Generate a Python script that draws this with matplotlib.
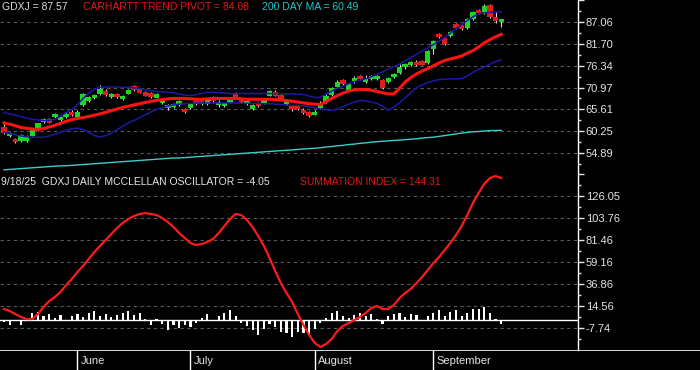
import matplotlib
matplotlib.use("Agg")
import matplotlib.pyplot as plt
import numpy as np
import pandas as pd

plt.rcParams['font.family'] = ['Liberation Sans', 'DejaVu Sans']

# ---------------- data ----------------
holidays = ['2025-05-26', '2025-06-19', '2025-07-04', '2025-09-01']
dates = pd.bdate_range('2025-05-13', '2025-09-18', freq='C', holidays=holidays)

opens = [61.4, 59.2, 58.3, 57.9, 57.8, 59.2, 60.6, 62.5, 63.0, 63.7,
         62.9, 63.7, 64.9, 63.8, 66.6, 67.7, 68.5, 69.3, 70.0, 68.6,
         69.3, 68.3, 69.5, 71.2, 70.4, 69.7, 69.5, 68.8, 67.1, 65.9,
         66.1, 66.8, 65.6, 65.9, 67.7, 67.6, 67.0, 68.6, 66.8, 66.6,
         67.5, 69.3, 68.0, 66.9, 65.8, 67.1, 67.2, 69.0, 69.7, 68.9,
         66.9, 66.5, 66.2, 65.5, 64.9, 64.5, 66.0, 67.5, 69.2, 71.2,
         72.8, 70.3, 72.5, 73.7, 72.3, 73.0, 73.2, 72.8, 72.3, 73.5,
         74.6, 75.9, 76.6, 77.1, 77.3, 77.0, 80.5, 84.0, 83.0, 83.7,
         86.5, 86.2, 85.6, 87.8, 90.0, 89.2, 91.2, 88.0, 87.2]
highs = [62.0, 60.0, 58.6, 59.6, 59.3, 60.8, 62.4, 63.5, 63.4, 64.8,
         64.1, 64.9, 65.5, 65.4, 69.7, 68.9, 69.5, 71.7, 70.5, 69.7,
         69.6, 69.2, 70.7, 71.7, 70.8, 70.0, 69.8, 69.6, 68.4, 67.0,
         67.3, 67.9, 65.9, 67.3, 68.0, 67.9, 68.0, 68.9, 67.8, 67.4,
         68.1, 69.8, 68.3, 67.9, 67.0, 67.4, 68.1, 70.3, 70.3, 69.5,
         68.0, 66.8, 66.5, 65.9, 65.2, 65.4, 67.6, 69.3, 71.2, 72.8,
         73.1, 72.0, 73.8, 74.0, 74.1, 74.0, 74.1, 73.1, 73.6, 74.6,
         76.7, 77.1, 77.5, 77.6, 77.7, 80.1, 82.6, 84.3, 83.3, 84.9,
         86.8, 86.6, 88.0, 89.8, 90.3, 91.5, 91.5, 89.5, 87.8]
lows = [59.5, 58.9, 57.3, 57.6, 57.5, 59.0, 60.3, 62.2, 62.3, 63.4,
        62.7, 63.5, 64.0, 63.6, 66.4, 67.4, 68.2, 69.1, 68.9, 68.4,
        68.5, 68.0, 69.3, 70.2, 69.6, 68.9, 68.5, 68.5, 66.9, 65.5,
        65.9, 66.5, 64.8, 65.6, 66.8, 66.8, 66.7, 67.3, 66.1, 66.3,
        67.2, 68.1, 67.1, 66.6, 65.4, 66.2, 66.9, 68.8, 68.8, 68.0,
        66.6, 65.3, 65.4, 64.5, 63.8, 64.2, 65.7, 67.2, 69.0, 71.0,
        71.5, 70.0, 72.2, 72.8, 72.0, 72.7, 72.9, 70.6, 72.0, 73.2,
        74.4, 75.6, 76.3, 76.2, 76.4, 76.8, 79.3, 83.1, 81.3, 83.4,
        85.3, 85.0, 85.4, 87.6, 89.0, 89.0, 88.0, 86.8, 85.8]
closes = [59.8, 59.6, 57.6, 59.3, 59.0, 60.5, 62.2, 63.2, 62.6, 64.5,
          63.8, 64.6, 64.3, 65.0, 69.4, 68.6, 69.0, 70.5, 69.2, 69.4,
          68.7, 68.9, 70.4, 70.5, 69.8, 69.1, 68.8, 69.0, 68.1, 66.7,
          67.0, 67.6, 65.0, 67.0, 67.0, 67.1, 67.8, 67.6, 67.4, 67.1,
          67.8, 68.3, 67.5, 67.6, 66.7, 66.5, 67.8, 70.0, 69.1, 68.4,
          67.7, 65.6, 65.8, 64.8, 64.0, 64.8, 67.3, 69.0, 70.9, 72.4,
          71.8, 71.8, 73.3, 73.0, 73.0, 73.7, 73.6, 70.9, 73.3, 74.3,
          76.0, 76.8, 77.1, 76.5, 76.7, 79.8, 82.3, 83.4, 81.6, 84.6,
          85.6, 85.4, 87.7, 89.5, 89.3, 91.0, 88.3, 87.5, 87.57]

trend_pivot = [62.3, 62.0, 61.6, 61.2, 61.0, 60.8, 60.7, 60.9, 61.3, 61.7,
               62.2, 62.7, 63.1, 63.4, 63.6, 63.9, 64.2, 64.5, 64.9, 65.3,
               65.7, 66.1, 66.4, 66.7, 67.0, 67.3, 67.6, 67.8, 68.0, 68.2,
               68.3, 68.3, 68.3, 68.2, 68.1, 68.1, 68.2, 68.3, 68.3, 68.3,
               68.3, 68.3, 68.2, 68.1, 68.1, 68.1, 68.1, 68.1, 68.0, 67.9,
               67.8, 67.6, 67.4, 67.2, 67.0, 66.9, 66.8, 67.5, 68.3, 69.0,
               69.6, 70.1, 70.4, 70.5, 70.5, 70.3, 70.0, 69.7, 69.4, 69.4,
               70.8, 72.3, 73.4, 74.3, 75.0, 75.6, 76.3, 77.0, 77.6, 78.0,
               78.3, 78.7, 79.4, 80.0, 80.9, 81.9, 82.7, 83.4, 84.0]
upper_band = [64.8, 64.5, 64.2, 63.8, 63.5, 63.2, 63.0, 62.9, 62.9, 63.2,
              64.0, 64.8, 65.6, 66.8, 68.3, 69.6, 70.6, 71.0, 71.1, 71.1,
              71.1, 71.0, 71.0, 70.9, 70.7, 70.4, 70.2, 70.0, 69.9, 69.8,
              69.7, 69.4, 69.1, 69.0, 69.2, 69.6, 69.8, 69.8, 69.7, 69.6,
              69.5, 69.5, 69.5, 69.5, 69.5, 69.5, 69.5, 69.5, 69.5, 69.5,
              69.4, 69.4, 69.3, 69.3, 68.9, 68.5, 68.6, 69.4, 70.1, 70.7,
              71.3, 71.9, 72.4, 72.8, 73.1, 73.6, 74.2, 74.8, 75.5, 76.1,
              76.7, 77.5, 78.3, 79.1, 79.9, 80.7, 81.5, 82.3, 83.2, 84.3,
              85.4, 86.4, 87.4, 88.3, 89.0, 89.3, 89.4, 89.5, 89.5]
lower_band = [60.0, 59.7, 59.4, 59.1, 58.9, 58.8, 58.8, 58.8, 59.1, 59.5,
              60.0, 60.5, 60.9, 61.0, 60.7, 60.0, 59.2, 58.8, 59.2, 59.8,
              60.6, 61.5, 62.3, 62.9, 63.6, 64.3, 65.0, 65.6, 66.0, 66.4,
              66.7, 66.9, 67.0, 67.1, 67.2, 67.2, 67.2, 67.2, 67.2, 67.2,
              67.2, 67.2, 67.1, 67.1, 67.1, 67.1, 67.0, 67.0, 66.9, 66.8,
              66.7, 66.6, 66.6, 66.5, 66.2, 66.0, 65.7, 65.5, 65.4, 65.7,
              66.3, 66.9, 67.4, 67.8, 67.7, 67.4, 67.1, 66.4, 65.4, 66.2,
              67.2, 68.5, 69.7, 70.9, 71.6, 72.2, 72.6, 72.9, 73.0, 73.1,
              73.1, 73.2, 73.8, 74.7, 75.4, 76.0, 76.7, 77.3, 77.8]
ma200 = [50.8, 50.9, 51.0, 51.1, 51.2, 51.3, 51.4, 51.5, 51.6, 51.7,
         51.8, 51.8, 51.9, 52.0, 52.1, 52.2, 52.3, 52.4, 52.5, 52.6,
         52.7, 52.8, 52.9, 53.0, 53.1, 53.2, 53.3, 53.4, 53.5, 53.6,
         53.7, 53.7, 53.8, 53.9, 54.0, 54.1, 54.2, 54.3, 54.4, 54.5,
         54.6, 54.7, 54.8, 54.9, 55.0, 55.1, 55.2, 55.3, 55.4, 55.5,
         55.6, 55.7, 55.8, 55.9, 56.0, 56.1, 56.2, 56.4, 56.5, 56.7,
         56.8, 57.0, 57.1, 57.3, 57.4, 57.6, 57.7, 57.8, 57.9, 58.0,
         58.1, 58.2, 58.3, 58.4, 58.6, 58.7, 58.8, 59.0, 59.2, 59.4,
         59.6, 59.8, 60.0, 60.1, 60.2, 60.3, 60.4, 60.45, 60.49]

oscillator = [-2, -5, -1, -5, 2, 7, 8, 4, 6, 2,
              5, 0, 4, 6, 3, 7, 9, 4, 6, 3,
              5, 7, 9, 5, 7, 1, -5, 1, -4, -10,
              -5, -8, -5, -7, -3, 2, 6, 0, 4, 7,
              10, 4, -3, -6, -10, -15, -9, -4, -7, -12,
              -13, -17, -12, -13, -14, -9, -3, 2, 7, 9,
              4, 2, 5, 7, 4, 6, 1, -4, 4, 6,
              7, 3, 6, 5, 0.5, 4, 7, 10, 4, 8,
              10, 4, 7, 11, 12, 14, 7, 1, -4.05]
summation = [11.5, 9.5, 6.4, 3.4, 1.3, 1.3, 6.4, 13.5, 19.6, 23.6,
             28.7, 35.8, 41.9, 49.0, 55.1, 62.2, 69.3, 75.4, 81.5, 87.5,
             93.6, 98.7, 102.7, 105.8, 107.8, 108.8, 107.8, 106.8, 103.7, 99.7,
             94.6, 88.5, 83.5, 78.4, 76.4, 77.4, 79.4, 82.5, 88.5, 95.6,
             102.7, 107.8, 106.8, 101.7, 94.6, 85.5, 75.4, 63.2, 50.0, 37.8,
             27.7, 18.6, 6.4, -4.7, -14.8, -22.9, -27.0, -24.0, -18.9, -10.8,
             -5.7, -2.7, 0.3, 3.4, 7.4, 12.5, 14.5, 11.5, 11.5, 15.6,
             22.6, 27.7, 31.8, 37.8, 43.9, 51.0, 58.1, 64.2, 71.3, 78.4,
             86.5, 95.6, 106.8, 119.0, 129.1, 138.2, 144.3, 146.3, 144.31]

price_ticks = [54.89, 60.25, 65.61, 70.97, 76.34, 81.70, 87.06]
osc_ticks = [-7.74, 14.56, 36.86, 59.16, 81.46, 103.76, 126.05]
osc_extra_tick = 148.35

# ---------------- figure ----------------
W, H = 700, 370
fig = plt.figure(figsize=(7, 3.7), dpi=100, facecolor='black')


def px_ax(x0, y0, x1, y1):
    a = fig.add_axes([x0 / W, 1 - y1 / H, (x1 - x0) / W, (y1 - y0) / H])
    a.set_facecolor('black')
    return a


ax1 = px_ax(0, 0, 578, 172)
ax2 = px_ax(0, 172, 578, 350)
ax3 = px_ax(0, 350, 700, 370)

step = 5.65
xl = (-4 / step, (578 - 4) / step)
x = np.arange(len(closes))

ax1.set_xlim(*xl)
ax2.set_xlim(*xl)
ax1.set_ylim(50.27, 92.18)
ax2.set_ylim(-30.06, 150.4)

tick_col = '#e4e4e4'
grid_col = '#5a5a5a'

for ax, ticks, extra in ((ax1, price_ticks, [92.42]), (ax2, osc_ticks, [osc_extra_tick])):
    for s in ('left', 'top', 'bottom'):
        ax.spines[s].set_visible(False)
    ax.spines['right'].set_color('white')
    ax.spines['right'].set_linewidth(1.0)
    ax.yaxis.tick_right()
    allt = list(ticks) + extra
    ax.set_yticks(allt)
    ax.set_yticklabels([f"{t:.2f}" for t in ticks] + [''] * len(extra))
    d = ticks[1] - ticks[0]
    ax.set_yticks([t - d / 2 for t in ticks] + [ticks[-1] + d / 2], minor=True)
    ax.tick_params(axis='y', which='major', colors=tick_col, labelsize=8,
                   length=4.5, width=1, pad=1)
    ax.tick_params(axis='y', which='minor', colors=tick_col, length=2.2, width=1)
    ax.set_xticks([])
    for t in ticks:
        ax.axhline(t, color=grid_col, lw=0.8, ls=(0, (3, 3)), zorder=1)

# candles
green = '#22d422'
red = '#e01c1c'
for i in x:
    o, h, l, c = opens[i], highs[i], lows[i], closes[i]
    ax1.vlines(i, l, h, color='#dadada', lw=0.8, zorder=2)
    col = green if c >= o else red
    lo, hi = min(o, c), max(o, c)
    if hi - lo < 0.8:
        mid = (hi + lo) / 2
        lo, hi = mid - 0.4, mid + 0.4
    ax1.bar(i, hi - lo, bottom=lo, width=0.95, color=col, zorder=2.5,
            linewidth=0)

ax1.plot(x, ma200, color='#3ccccc', lw=1.0, zorder=3)
ax1.plot(x, upper_band, color='#1a1aa8', lw=1.1, zorder=3)
ax1.plot(x, lower_band, color='#1a1aa8', lw=1.1, zorder=3)
ax1.plot(x, trend_pivot, color='#ff1212', lw=2.2, zorder=3.5)

# oscillator panel
ax2.axhline(0, color='white', lw=1.0, zorder=2)
ax2.bar(x, oscillator, width=0.38, color='white', zorder=2.5, linewidth=0)
ax2.plot(x, summation, color='#ff1a1a', lw=1.6, zorder=3)

# date strip
ax3.set_xlim(-4 / step, (700 - 4) / step)
ax3.set_ylim(0, 1)
ax3.axis('off')
ax3.axhline(1, color='white', lw=1.2)
months = pd.Series(dates.month)
starts = [i for i in range(1, len(dates)) if months[i] != months[i - 1]]
for i in starts:
    ax3.axvline(i, color='white', lw=1.0)
    ax3.text(i + 0.55, 0.45, dates[i].strftime('%B'), color=tick_col,
             fontsize=8, va='center', ha='left')

# header texts
def ftext(px, py, s, col):
    fig.text(px / W, 1 - py / H, s, color=col, fontsize=7.5, va='center', ha='left')

ftext(2, 6.5, f"GDXJ = {closes[-1]:.2f}", '#dcdcdc')
ftext(83, 6.5, "CARHARTT TREND PIVOT = 84.08", '#e01818')
ftext(262, 6.5, f"200 DAY MA = {ma200[-1]:.2f}", '#22c8c8')
ftext(1, 182, "9/18/25  GDXJ DAILY MCCLELLAN OSCILLATOR = -4.05", '#e6e6e6')
ftext(300, 182, f"SUMMATION INDEX = {summation[-1]:.2f}", '#e01818')

fig.savefig('out.png', dpi=100, facecolor='black')
